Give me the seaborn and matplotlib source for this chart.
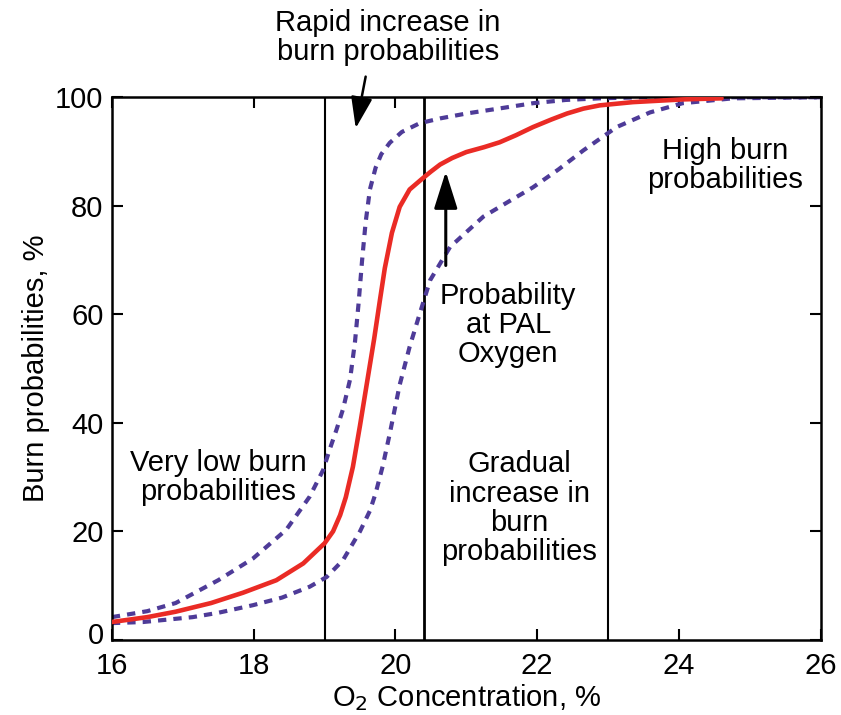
import matplotlib
matplotlib.use("Agg")
import matplotlib.pyplot as plt
import matplotlib.transforms as mtransforms
import seaborn as sns

sns.set_theme(style="white")
plt.rcParams['font.family'] = ['Liberation Sans', 'DejaVu Sans']
plt.rcParams.update({'text.color': 'black', 'axes.labelcolor': 'black',
                     'xtick.color': 'black', 'ytick.color': 'black'})

# Mean burn probability curve (red)
mean_x = [16.0, 16.5, 16.9, 17.4, 17.85, 18.32, 18.7, 19.0, 19.12, 19.22, 19.3, 19.4, 19.5, 19.6, 19.7,
          19.78, 19.85, 19.95, 20.06, 20.2, 20.37, 20.5, 20.63, 20.8, 21.0, 21.25, 21.47, 21.7,
          21.94, 22.2, 22.42, 22.65, 22.88, 23.35, 24.05, 24.6]
mean_y = [3.3, 4.2, 5.2, 6.8, 8.7, 11.0, 14.1, 17.8, 20.0, 23.0, 26.3, 31.9, 39.5, 47.5, 55.5,
          62.5, 68.5, 75.0, 79.8, 83.0, 84.9, 86.3, 87.6, 88.8, 89.9, 90.8, 91.7, 93.0,
          94.5, 95.9, 97.0, 97.9, 98.5, 99.1, 99.6, 99.8]

# Lower bound (dotted purple)
low_x = [16.0, 16.44, 17.14, 17.5, 17.99, 18.4, 18.79, 19.03, 19.26, 19.5, 19.64, 19.72, 19.82,
         19.92, 20.06, 20.2, 20.34, 20.49, 20.77, 21.24, 21.6, 21.94, 22.3, 22.65, 23.12, 23.59,
         24.05, 24.76, 26.0]
low_y = [3.1, 3.3, 4.2, 5.0, 6.4, 7.8, 9.8, 11.6, 14.7, 20.0, 23.8, 27.0, 32.0,
         38.0, 47.0, 54.0, 60.0, 66.3, 72.4, 78.0, 80.8, 83.4, 86.7, 90.2, 94.5, 97.2,
         98.9, 99.8, 100.0]

# Upper bound (dotted purple)
up_x = [16.0, 16.5, 16.9, 17.5, 17.99, 18.46, 18.79, 18.98, 19.07, 19.17, 19.26, 19.36, 19.43,
        19.48, 19.53, 19.58, 19.64, 19.72, 19.8, 19.92, 20.09, 20.34, 20.63, 21.0, 21.5, 21.94,
        22.4, 22.88, 23.5, 26.0]
up_y = [4.2, 5.3, 6.8, 11.0, 15.0, 20.3, 26.4, 31.3, 35.0, 38.8, 42.5, 48.0, 55.0,
        62.0, 70.0, 77.0, 83.0, 87.0, 89.5, 91.6, 93.6, 95.2, 96.1, 97.0, 98.0, 98.9,
        99.5, 99.8, 100.0, 100.0]

x_ticks = [16, 18, 20, 22, 24, 26]
y_ticks = [0, 20, 40, 60, 80, 100]
boundaries = [19.0, 20.4, 23.0]

fig = plt.figure(figsize=(8.41, 7.15), dpi=100)
ax = fig.add_axes([0.133, 0.105, 0.843, 0.759])

for i, b in enumerate(boundaries):
    ax.axvline(b, color='black', lw=2.0 if i == 1 else 1.5, zorder=1)

purple = '#4e3b98'
dash = (2.0, 1.7)
sns.lineplot(x=low_x, y=low_y, ax=ax, color=purple, lw=3.0, zorder=2, estimator=None, sort=False)
ax.lines[-1].set_dashes(dash)
sns.lineplot(x=up_x, y=up_y, ax=ax, color=purple, lw=3.0, zorder=2, estimator=None, sort=False)
ax.lines[-1].set_dashes(dash)
sns.lineplot(x=mean_x, y=mean_y, ax=ax, color='#ea2b25', lw=3.3, zorder=3, estimator=None, sort=False)
for ln in ax.lines:
    ln.set_solid_joinstyle('round')
    ln.set_dash_joinstyle('round')

ax.set_xlim(16, 26)
ax.set_ylim(0, 100)
ax.set_xticks(x_ticks)
ax.set_yticks(y_ticks)
ax.set_xticklabels([str(t) for t in x_ticks])
ax.set_yticklabels([str(t) for t in y_ticks])
ax.tick_params(direction='in', length=8, width=1.5, labelsize=21, top=True, right=True,
               bottom=True, left=True, colors='black')
ax.tick_params(axis='x', pad=9)
ax.tick_params(axis='y', pad=6)
for s in ax.spines.values():
    s.set_color('black')
    s.set_linewidth(1.8)

# nudge the "0" label slightly upward (as in the reference) so it does not touch "16"
zero_lbl = ax.yaxis.get_major_ticks()[0].label1
zero_lbl.set_transform(zero_lbl.get_transform() +
                       mtransforms.ScaledTranslation(0, 5 / 72, fig.dpi_scale_trans))

ax.set_xlabel('O$_2$ Concentration, %', fontsize=21, labelpad=1)
ax.set_ylabel('Burn probabilities, %', fontsize=21, labelpad=4)

fs = 21
ls = 1.05
ax.text(19.89, 111.0, 'Rapid increase in\nburn probabilities', ha='center', va='center', fontsize=fs,
        linespacing=ls, clip_on=False)
ax.annotate('', xy=(19.44, 94.3), xytext=(19.58, 103.8),
            arrowprops=dict(arrowstyle='-|>,head_length=1.6,head_width=0.55', color='black', lw=1.8,
                            shrinkA=0, shrinkB=0),
            annotation_clip=False)
ax.text(17.5, 30.0, 'Very low burn\nprobabilities', ha='center', va='center', fontsize=fs, linespacing=ls)
ax.text(21.59, 58.0, 'Probability\nat PAL\nOxygen', ha='center', va='center', fontsize=fs, linespacing=ls)
ax.annotate('', xy=(20.71, 86.3), xytext=(20.71, 69.0),
            arrowprops=dict(arrowstyle='-|>,head_length=1.9,head_width=0.6', color='black', lw=2.2,
                            shrinkA=0, shrinkB=0))
ax.text(21.75, 24.3, 'Gradual\nincrease in\nburn\nprobabilities', ha='center', va='center', fontsize=fs,
        linespacing=ls)
ax.text(24.65, 87.5, 'High burn\nprobabilities', ha='center', va='center', fontsize=fs, linespacing=ls)

fig.savefig('out.png', dpi=100)
